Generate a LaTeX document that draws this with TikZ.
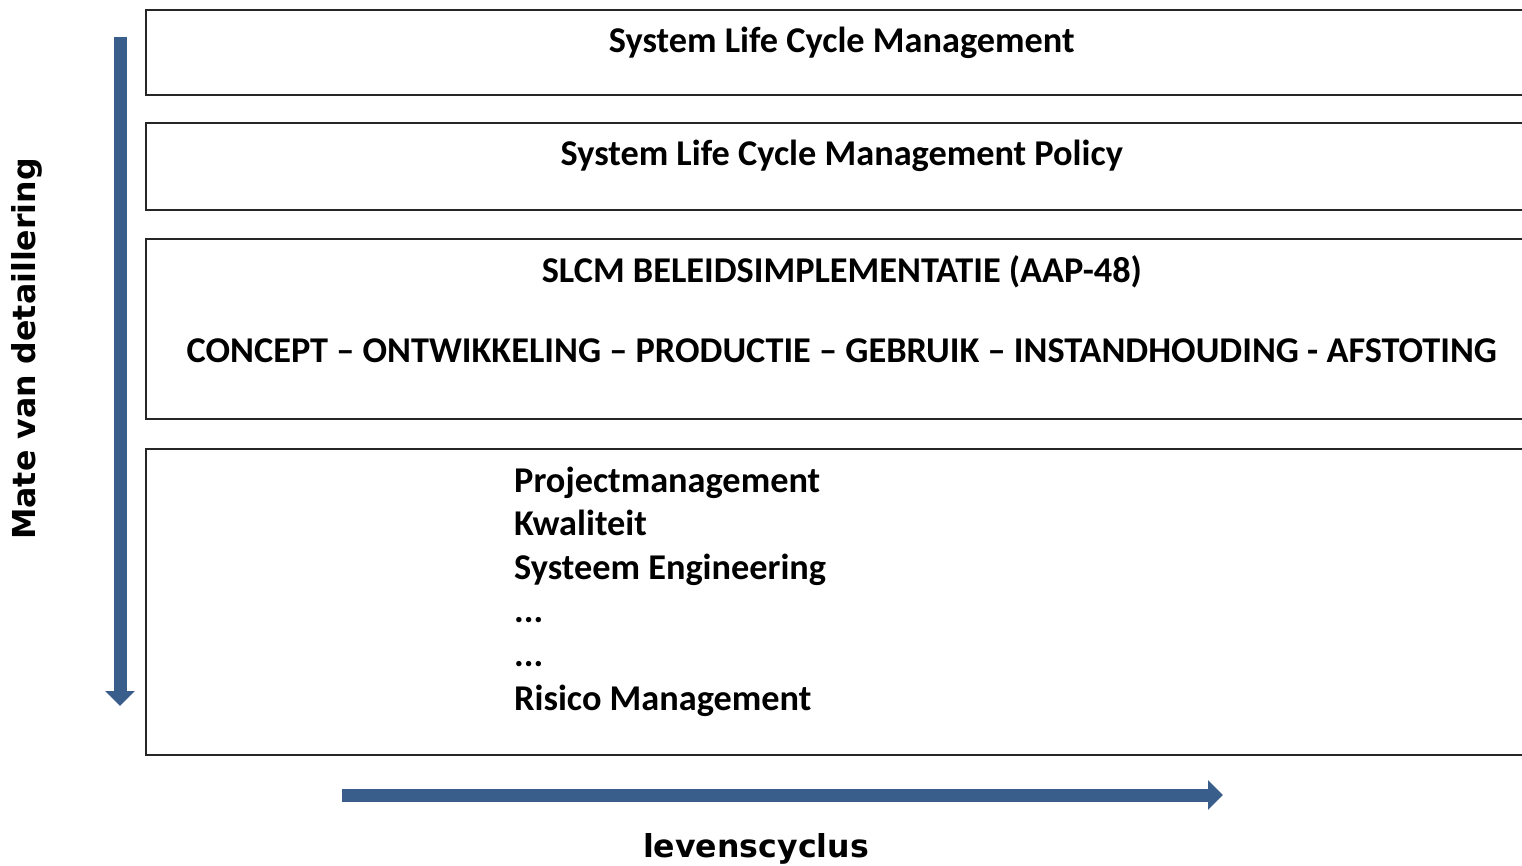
\documentclass[tikz,border=0pt]{standalone}
\usepackage{fontspec}
\setmainfont{Carlito}
\newfontfamily\axisfont{DejaVu Sans}
\usetikzlibrary{positioning, calc, arrows.meta}

\definecolor{axisblue}{RGB}{58,94,140}

\begin{document}
\begin{tikzpicture}[
  x=1pt, y=-1pt, % one unit per pixel, y pointing down
  panel/.style={draw=black!85, line width=1.6pt, rectangle,
    minimum width=1392pt, anchor=north west, inner sep=0pt},
  boxtext/.style={font=\bfseries\fontsize{36.3}{42}\selectfont, inner sep=0pt},
  axislabel/.style={font=\axisfont\bfseries\fontsize{31.6}{36}\selectfont, inner sep=0pt},
  axisarrow/.style={draw=axisblue, line width=13pt,
    -{Triangle[width=29pt, length=15pt]}},
]
  \useasboundingbox (0,0) rectangle (1522,865);

  % the four layers
  \node[panel, minimum height=85pt] (slcm) at (145,9) {};
  \node[panel, minimum height=87pt] (policy) at (145,122) {};
  \node[panel, minimum height=180pt] (impl) at (145,238) {};
  \node[panel, minimum height=306pt] (disc) at (145,448) {};

  %% texts of the layers
  \node[boxtext, anchor=base] (slcmtxt) at ($(slcm.north)+(0,43)$)
    {System Life Cycle Management};
  \node[boxtext, anchor=base] (policytxt) at ($(policy.north)+(0,43)$)
    {System Life Cycle Management Policy};
  \node[boxtext, anchor=base] (impltxt) at ($(impl.north)+(0,44)$)
    {SLCM BELEIDSIMPLEMENTATIE (AAP-48)};
  \node[boxtext, anchor=base] (phases) at ($(impl.north)+(0,124)$)
    {CONCEPT -- ONTWIKKELING -- PRODUCTIE -- GEBRUIK -- INSTANDHOUDING - AFSTOTING};

  %% disciplines, one per line
  \node[boxtext, anchor=base west] (proj) at ($(disc.north west)+(369,44)$)
    {Projectmanagement};
  \node[boxtext, anchor=base west] (kwal) at ($(proj.base west)+(0,43.6)$)
    {Kwaliteit};
  \node[boxtext, anchor=base west] (syseng) at ($(kwal.base west)+(0,43.6)$)
    {Systeem Engineering};
  \node[boxtext, anchor=base west] (dotsa) at ($(syseng.base west)+(0,43.6)$)
    {...};
  \node[boxtext, anchor=base west] (dotsb) at ($(dotsa.base west)+(0,43.6)$)
    {...};
  \node[boxtext, anchor=base west] (risk) at ($(dotsb.base west)+(0,43.6)$)
    {Risico Management};

  % axes
  \coordinate (dtop) at (120,37);
  \coordinate (dbot) at (120,706);
  \draw[axisarrow] (dtop) -- (dbot);
  \node[axislabel, rotate=90] (detail) at (27,349) {Mate van detaillering};

  \coordinate (lstart) at (342,795);
  \coordinate (lend) at (1223,795);
  \draw[axisarrow] (lstart) -- (lend);
  \node[axislabel, anchor=base] (cycle) at (756,857) {levenscyclus};
\end{tikzpicture}
\end{document}
